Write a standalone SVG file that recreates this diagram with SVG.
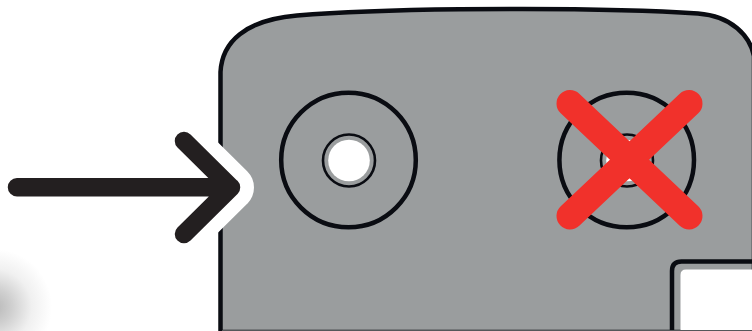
<svg xmlns="http://www.w3.org/2000/svg" width="752" height="331" viewBox="0 0 752 331">
<defs>
<radialGradient id="smudge" gradientUnits="userSpaceOnUse" cx="-6" cy="307" r="58">
<stop offset="0" stop-color="#b8b8b8"/>
<stop offset="0.3" stop-color="#cfcfcf"/>
<stop offset="0.65" stop-color="#f0f0f0"/>
<stop offset="1" stop-color="#ffffff"/>
</radialGradient>
</defs>
<style>
.ink{fill:none;stroke:#0a0c12;stroke-width:4.500}
.thin{fill:none;stroke:#0a0c12;stroke-width:2.600}
.hole{fill:#fff}
.arrow{fill:none;stroke:#231f20;stroke-width:18.500;stroke-linecap:round;stroke-linejoin:round}
.halo{fill:none;stroke:#fff;stroke-width:46;stroke-linecap:butt;stroke-linejoin:round}
.cross{fill:none;stroke:#f1312b;stroke-width:27;stroke-linecap:round}
</style>
<rect width="752" height="331" fill="#fff"/>
<rect x="0" y="240" width="60" height="91" fill="url(#smudge)"/>
<g id="body">
<path d="M220.500 332V72C222 42 245 20 297 15.500C345 11.500 400 10 460 9.300C540 8.500 640 9.500 698 13.500C732 16 750 36 754 56V332Z" fill="#9a9d9e" stroke="#0a0c12" stroke-width="4.500"/>
<path d="M672 333V271Q672 261.500 681.500 261.500H754" class="ink"/>
<path d="M680.500 333V275Q680.500 269.500 686 269.500H754V333Z" class="hole"/>
<rect x="222" y="330" width="530" height="1" fill="#55575a"/>
</g>
<g id="port-left">
<circle cx="348.500" cy="160" r="67.300" class="ink"/>
<circle cx="349" cy="160.500" r="26" class="thin"/>
<circle cx="349" cy="160.500" r="20.800" class="hole"/>
</g>
<g id="port-right">
<circle cx="626.700" cy="160" r="67.300" class="ink"/>
<circle cx="627" cy="160.500" r="26" class="thin"/>
<circle cx="627" cy="160.500" r="20.800" class="hole"/>
<path d="M570 103.500L689 216M689 103.500L570 216" class="cross"/>
</g>
<g id="connectors">
<path d="M184 141L231 187.500L184 234" class="halo"/>
<path d="M17 187.300H231M184 141L231 187.500L184 234" class="arrow"/>
</g>
</svg>
